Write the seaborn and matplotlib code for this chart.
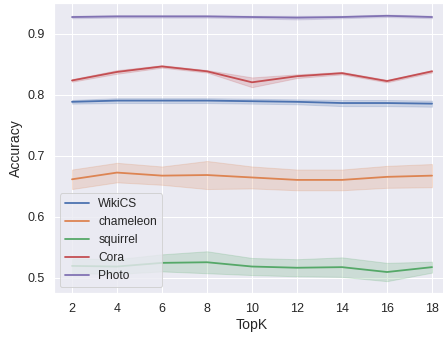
import numpy as np
import pandas as pd
import matplotlib
matplotlib.use("Agg")
import matplotlib.pyplot as plt
import seaborn as sns

# ---- data ----
topk = [2, 4, 6, 8, 10, 12, 14, 16, 18]
datasets = ["WikiCS", "chameleon", "squirrel", "Cora", "Photo"]

wikics = [0.788, 0.790, 0.790, 0.790, 0.789, 0.788, 0.786, 0.786, 0.785]
chameleon = [0.661, 0.672, 0.667, 0.668, 0.664, 0.660, 0.660, 0.665, 0.667]
squirrel = [0.519, 0.518, 0.524, 0.525, 0.518, 0.516, 0.517, 0.509, 0.517]
cora = [0.823, 0.837, 0.846, 0.838, 0.820, 0.830, 0.835, 0.822, 0.838]
photo = [0.927, 0.928, 0.928, 0.928, 0.927, 0.926, 0.927, 0.929, 0.927]

# half width of the shaded band (min/max over runs)
wikics_sp = [0.003, 0.004, 0.004, 0.004, 0.004, 0.004, 0.005, 0.005, 0.005]
chameleon_sp = [0.016, 0.016, 0.015, 0.023, 0.018, 0.017, 0.017, 0.018, 0.019]
squirrel_sp = [0.012, 0.012, 0.014, 0.018, 0.014, 0.014, 0.016, 0.015, 0.009]
cora_sp = [0.002, 0.003, 0.002, 0.002, 0.008, 0.003, 0.002, 0.002, 0.002]
photo_sp = [0.002, 0.002, 0.002, 0.002, 0.002, 0.003, 0.002, 0.002, 0.002]

means = [wikics, chameleon, squirrel, cora, photo]
spreads = [wikics_sp, chameleon_sp, squirrel_sp, cora_sp, photo_sp]

rows = []
for name, m, s in zip(datasets, means, spreads):
    for k, v, h in zip(topk, m, s):
        for d in (-h, 0.0, h):
            rows.append({"TopK": k, "Accuracy": v + d, "Dataset": name})
df = pd.DataFrame(rows)

# ---- plot ----
sns.set_theme()
plt.rcParams["font.family"] = ["Liberation Sans", "DejaVu Sans"]
plt.rcParams.update({"xtick.labelsize": 12.5, "ytick.labelsize": 12.5,
                     "axes.labelsize": 14, "legend.fontsize": 12})

fig = plt.figure(figsize=(443 / 72, 341 / 72), dpi=72)
ax = fig.add_axes([54 / 443, 48 / 341, 396 / 443, 290 / 341])

sns.lineplot(data=df, x="TopK", y="Accuracy", hue="Dataset", hue_order=datasets,
             errorbar=("pi", 100), ax=ax, linewidth=1.8)

ax.set_xticks(topk)
ax.set_xlim(1.2, 18.8)
ax.set_ylim(0.4746, 0.950)
ax.set_yticks([0.5, 0.6, 0.7, 0.8, 0.9])
ax.legend(loc="lower left")

fig.savefig("out.png", dpi=72)
